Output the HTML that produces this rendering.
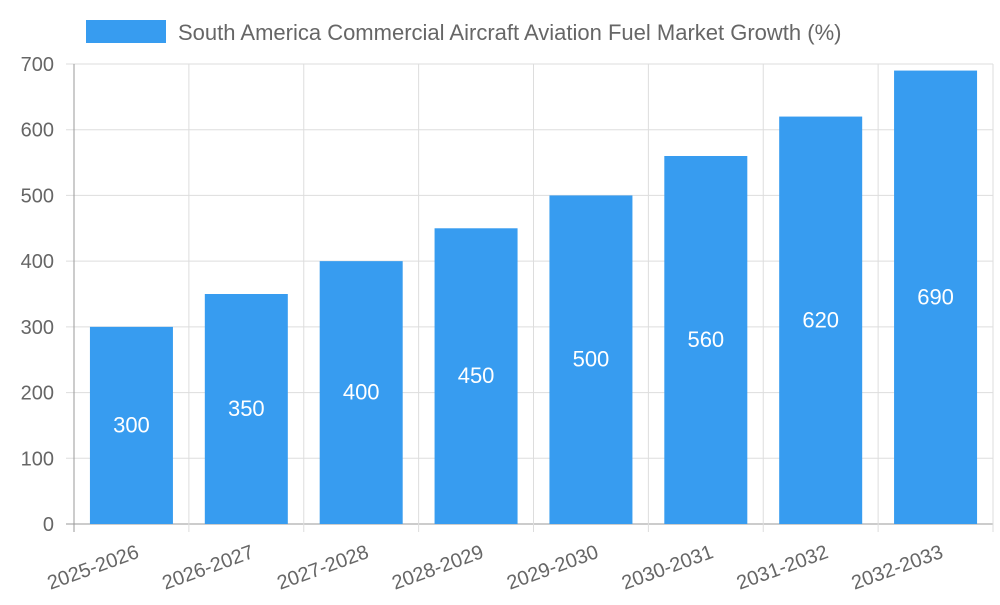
<!DOCTYPE html>
<html><head><meta charset="utf-8"><style>
body{margin:0;background:#fff;width:1000px;height:600px;overflow:hidden;font-family:"Liberation Sans",sans-serif}
</style></head><body>
<svg id="chart" width="1000" height="600" xmlns="http://www.w3.org/2000/svg">
<g>
<rect x="86" y="20" width="80" height="23" fill="#379cf0"/>
<text x="178" y="40" font-size="22" fill="#666">South America Commercial Aircraft Aviation Fuel Market Growth (%)</text>
</g>
<g id="grid"></g><g id="bars"></g><g id="labels"></g>
</svg>
<script>
const categories=["2025-2026","2026-2027","2027-2028","2028-2029","2029-2030","2030-2031","2031-2032","2032-2033"];
const values=[300,350,400,450,500,560,620,690];
const yTicks=[0,100,200,300,400,500,600,700];
const NS="http://www.w3.org/2000/svg";
const L=74,R=993,T=64,B=524,yMax=700;
const bw=(R-L)/categories.length;
const y=v=>B-(v/yMax)*(B-T);
const x=i=>L+i*bw;
function mk(p,tag,a){const e=document.createElementNS(NS,tag);for(const k in a)e.setAttribute(k,a[k]);p.appendChild(e);return e;}
const g=document.getElementById('grid'),bg=document.getElementById('bars'),lg=document.getElementById('labels');
yTicks.forEach(t=>{
 const ln=mk(g,'line',{x1:L-8,x2:R,y1:y(t),y2:y(t),stroke:t===0?'#999':'#ddd','stroke-width':1});
 
 
 const tx=mk(g,'text',{x:L-20,y:y(t)+7,'text-anchor':'end','font-size':20,fill:'#666'});
 tx.textContent=t;
 
 
});
for(let i=0;i<=categories.length;i++){
 const ln=mk(g,'line',{x1:x(i),x2:x(i),y1:T,y2:B+8,stroke:i===0?'#999':'#ddd','stroke-width':1});
 
 
}
categories.forEach((c,i)=>{
 const cx=x(i)+bw/2,w=83;
 const r=mk(bg,'rect',{x:cx-w/2,y:y(values[i]),width:w,height:B-y(values[i]),fill:'#379cf0'});
 
 
 const v=mk(lg,'text',{x:cx,y:(y(values[i])+B)/2+7,'text-anchor':'middle','font-size':22,fill:'#fff'});
 v.textContent=values[i];
 
 
 const t=mk(lg,'text',{x:cx+4,y:B+20,'text-anchor':'end','font-size':20,fill:'#666',transform:`rotate(-20 ${cx+4} ${B+20})`});
 t.setAttribute('dy','14');
 t.textContent=c;
 
 
});
</script>
</body></html>
